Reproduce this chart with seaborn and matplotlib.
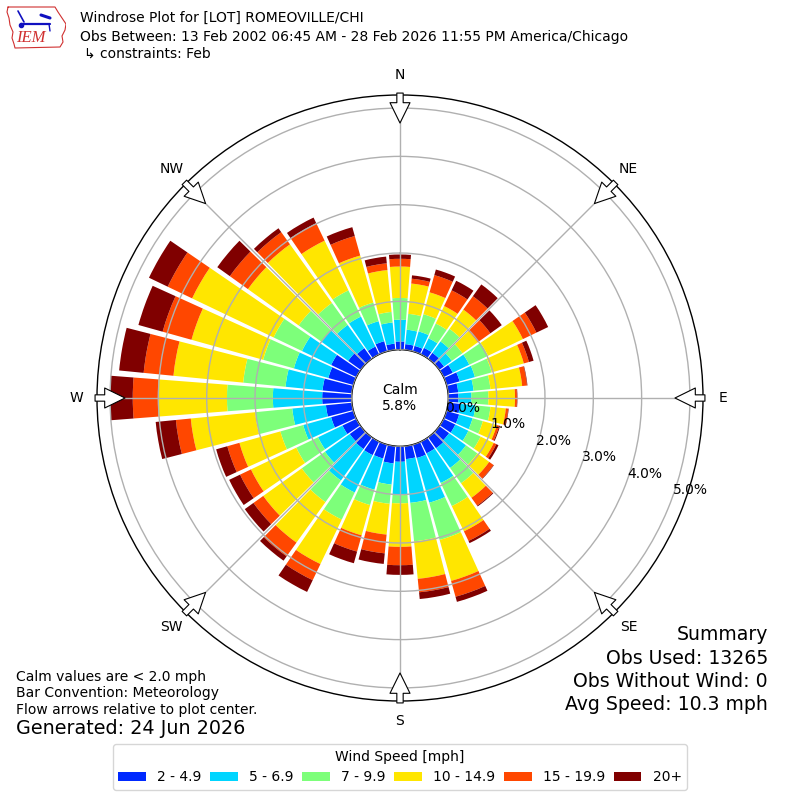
import numpy as np
import matplotlib
matplotlib.use("Agg")
import matplotlib.pyplot as plt
import seaborn as sns

# --- data (percent of obs, per direction, per speed bin) ---
directions = np.arange(0, 360, 10)
speed_bins = ["2 - 4.9", "5 - 6.9", "7 - 9.9", "10 - 14.9", "15 - 19.9", "20+"]

spd_2_5 = [0.17, 0.12, 0.12, 0.15, 0.15, 0.12, 0.21, 0.28, 0.21, 0.21, 0.25, 0.27,
           0.27, 0.25, 0.28, 0.27, 0.29, 0.27, 0.32, 0.36, 0.30, 0.31, 0.30, 0.28,
           0.32, 0.48, 0.54, 0.61, 0.61, 0.54, 0.58, 0.32, 0.27, 0.18, 0.22, 0.13]
spd_5_7 = [0.45, 0.30, 0.31, 0.22, 0.29, 0.20, 0.38, 0.33, 0.32, 0.27, 0.32, 0.29,
           0.30, 0.43, 0.50, 0.68, 0.96, 0.91, 0.69, 0.44, 0.67, 0.86, 0.80, 0.63,
           0.56, 0.60, 0.70, 1.02, 0.77, 0.74, 0.67, 0.68, 0.59, 0.69, 0.43, 0.44]
spd_7_10 = [0.45, 0.33, 0.37, 0.34, 0.32, 0.27, 0.43, 0.36, 0.35, 0.35, 0.31, 0.22,
            0.28, 0.29, 0.39, 0.53, 0.80, 0.80, 0.17, 0.40, 0.33, 0.62, 0.55, 0.59,
            0.50, 0.49, 0.77, 0.95, 0.88, 0.66, 0.65, 0.58, 0.56, 0.60, 0.40, 0.22]
spd_10_15 = [0.65, 0.63, 0.47, 0.40, 0.49, 0.39, 0.80, 0.69, 0.66, 0.55, 0.32, 0.30,
             0.30, 0.30, 0.37, 0.58, 0.88, 0.78, 0.90, 0.64, 0.65, 1.02, 1.03, 0.98,
             1.04, 0.88, 1.34, 1.43, 1.45, 1.54, 1.87, 1.29, 1.49, 1.14, 1.01, 0.87]
spd_15_20 = [0.16, 0.10, 0.37, 0.36, 0.34, 0.32, 0.31, 0.11, 0.10, 0.04, 0.05, 0.05,
             0.06, 0.11, 0.20, 0.22, 0.34, 0.28, 0.38, 0.39, 0.35, 0.37, 0.35, 0.25,
             0.25, 0.26, 0.31, 0.52, 0.62, 0.62, 0.56, 0.46, 0.31, 0.40, 0.42, 0.14]
spd_20_up = [0.09, 0.07, 0.12, 0.22, 0.30, 0.29, 0.27, 0.10, 0.01, 0.01, 0.01, 0.02,
             0.05, 0.01, 0.02, 0.05, 0.11, 0.14, 0.20, 0.22, 0.25, 0.27, 0.11, 0.22,
             0.25, 0.24, 0.42, 0.47, 0.51, 0.52, 0.43, 0.32, 0.10, 0.13, 0.19, 0.14]

calm_pct = 5.8
ring_ticks = [0, 1, 2, 3, 4, 5]
compass_names = ["N", "NE", "E", "SE", "S", "SW", "W", "NW"]
compass_deg = [0, 45, 90, 135, 180, 225, 270, 315]

summary_lines = ["Summary", "Obs Used: 13265", "Obs Without Wind: 0", "Avg Speed: 10.3 mph"]
note_lines = ["Calm values are < 2.0 mph", "Bar Convention: Meteorology",
              "Flow arrows relative to plot center."]

sns.set_theme(style="white")
plt.rcParams["font.family"] = ["DejaVu Sans"]
plt.rcParams["text.color"] = "black"
plt.rcParams["xtick.color"] = "black"
plt.rcParams["ytick.color"] = "black"

fig = plt.figure(figsize=(8, 8), dpi=100)
ax = fig.add_axes([0.12125, 0.12375, 0.7575, 0.7575], projection="polar")
ax.set_theta_zero_location("N")
ax.set_theta_direction(-1)

colors = plt.cm.jet(np.linspace(0, 1, 7))[1:]
series = [spd_2_5, spd_5_7, spd_7_10, spd_10_15, spd_15_20, spd_20_up]
theta = np.deg2rad(directions)
bottom = np.zeros(len(directions))
for lab, vals, c in zip(speed_bins, series, colors):
    ax.bar(theta, vals, width=np.deg2rad(8.8), bottom=bottom, color=c,
           label=lab, linewidth=0)
    bottom = bottom + np.array(vals)

ax.set_rorigin(-1)
ax.set_ylim(0, 5.27)
ax.set_yticks(ring_ticks)
ax.set_yticklabels([f"{r:.1f}%" for r in ring_ticks], fontsize=10, color="black")
ax.set_rlabel_position(110)
ax.set_xticks(np.deg2rad(compass_deg))
ax.set_xticklabels([])
ax.grid(True, color="#b0b0b0", lw=1)
ax.set_axisbelow(False)
for sp in ax.spines.values():
    sp.set_color("black")
    sp.set_linewidth(1)

# calm in the middle
ax.text(0.5, 0.5, f"Calm\n{calm_pct:.1f}%", transform=ax.transAxes,
        ha="center", va="center", fontsize=10)

# compass labels and flow arrows
for name, deg in zip(compass_names, compass_deg):
    t = np.deg2rad(deg)
    ax.text(t, 5.69, name, ha="center", va="center", fontsize=10)
    ax.annotate("", xy=(t, 4.69), xytext=(t, 5.31), annotation_clip=False,
                arrowprops=dict(arrowstyle="simple,head_length=1.22,head_width=1.2,tail_width=0.38",
                                fc="white", ec="black", lw=0.8, shrinkA=0, shrinkB=0))

# titles
fig.text(80 / 800, 1 - 18 / 800, "Windrose Plot for [LOT] ROMEOVILLE/CHI", fontsize=10, va="center")
fig.text(80 / 800, 1 - 37 / 800,
         "Obs Between: 13 Feb 2002 06:45 AM - 28 Feb 2026 11:55 PM America/Chicago",
         fontsize=10, va="center")
fig.text(84 / 800, 1 - 54 / 800, "\u21b3 constraints: Feb", fontsize=10, va="center")

# notes bottom left
for i, line in enumerate(note_lines):
    fig.text(16 / 800, 1 - (677 + 16.5 * i) / 800, line, fontsize=10, va="center")
fig.text(16 / 800, 1 - 729 / 800, "Generated: 24 Jun 2026", fontsize=13.8, va="center")

# summary bottom right
for i, line in enumerate(summary_lines):
    fig.text(768 / 800, 1 - (635 + 23.3 * i) / 800, line, fontsize=13.6, va="center", ha="right")

# legend
handles, labels = ax.get_legend_handles_labels()
leg = fig.legend(handles, labels, loc="lower center", bbox_to_anchor=(0.5, 0.0125),
                 ncol=6, title="Wind Speed [mph]", fontsize=10, title_fontsize=10,
                 borderaxespad=0, frameon=True, columnspacing=0.62)

# IEM logo (rough)
lax = fig.add_axes([5 / 800, 1 - 50 / 800, 61 / 800, 47 / 800])
lax.set_xlim(5, 66)
lax.set_ylim(50, 3)
lax.axis("off")
ox = [8, 55, 58, 62, 66, 65, 62, 63, 60, 15, 14, 12, 13, 10, 9, 7, 8]
oy = [7, 7, 12, 18, 24, 30, 36, 42, 47, 48, 44, 38, 32, 25, 18, 12, 7]
lax.plot(ox, oy, color="#d03030", lw=0.8)
lax.plot([21, 50], [24, 24], color="#1010c0", lw=1.6)
lax.plot([18, 24], [11, 22], color="#1010c0", lw=1.2)
lax.plot([41, 50], [15, 18], color="#1010c0", lw=2.2)
lax.plot([49, 50], [24, 31], color="#1010c0", lw=1.0)
lax.plot([21], [25], marker="o", color="#1010c0", ms=3)
lax.text(31, 38, "IEM", color="#d03030", fontsize=12, style="italic",
         family="Liberation Serif", ha="center", va="center")

fig.savefig("out.png", dpi=100, facecolor="white")
